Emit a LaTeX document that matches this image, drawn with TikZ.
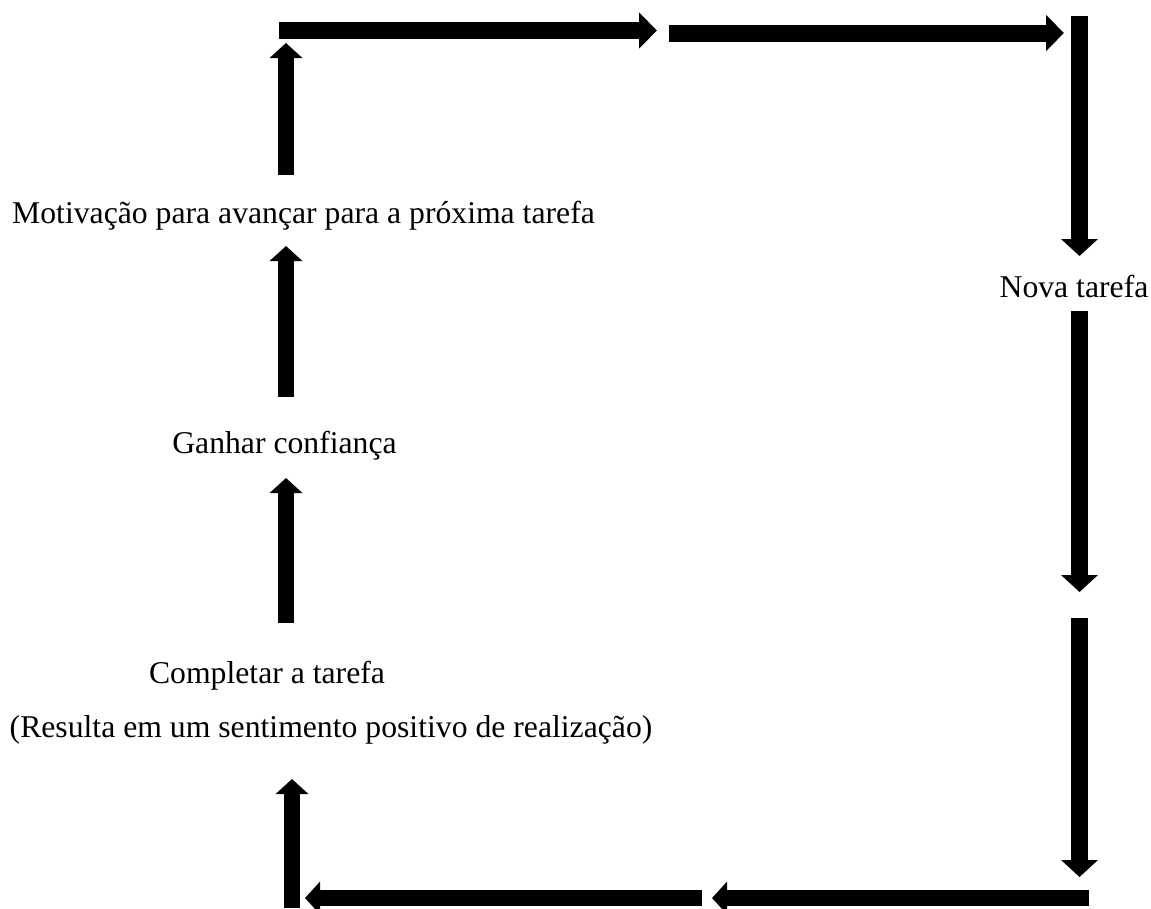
\documentclass[tikz,border=0pt]{standalone}
\usepackage{fontspec}
\setmainfont{Liberation Serif}
\usetikzlibrary{arrows.meta}
\begin{document}
\begin{tikzpicture}[x=1pt,y=-1pt,
  blockarrow/.style n args={3}{line width=#1pt,
    -{Triangle[length=#2pt,width=#3pt]}},
  leftarrow/.style={blockarrow={16}{15}{32}},
  toparrow/.style={blockarrow={17}{18}{35}},
  rightarrow/.style={blockarrow={17}{17}{36}},
  steptext/.style={inner sep=0pt, anchor=base,
    font=\fontsize{31.7}{38}\selectfont}]
\useasboundingbox (0,0) rectangle (1151,908);

% texts of the cycle
\node[steptext] (mot)    at (303.5,223) {Motivação para avançar para a próxima tarefa};
\node[steptext] (nova)   at (1074,297)  {Nova tarefa};
\node[steptext] (ganhar) at (284.5,453) {Ganhar confiança};
\node[steptext] (compl)  at (267,683)   {Completar a tarefa};
\node[steptext] (result) at (331,737)   {(Resulta em um sentimento positivo de realização)};

% end points of the block arrows
\coordinate (t1s) at (279,30.5);  \coordinate (t1e) at (657,30.5);
\coordinate (t2s) at (669,33);    \coordinate (t2e) at (1064,33);
\coordinate (r1s) at (1079.5,16); \coordinate (r1e) at (1079.5,256);
\coordinate (r2s) at (1079.5,311);\coordinate (r2e) at (1079.5,592);
\coordinate (r3s) at (1079.5,618);\coordinate (r3e) at (1079.5,877);
\coordinate (b1s) at (1089,898);  \coordinate (b1e) at (712,898);
\coordinate (b2s) at (702,898);   \coordinate (b2e) at (305,898);
\coordinate (l4s) at (292,908);   \coordinate (l4e) at (292,779);
\coordinate (l3s) at (286,623);   \coordinate (l3e) at (286,478);
\coordinate (l2s) at (286,397);   \coordinate (l2e) at (286,246);
\coordinate (l1s) at (286,175);   \coordinate (l1e) at (286,43);

% top row
\draw[toparrow] (t1s) -- (t1e);
\draw[toparrow] (t2s) -- (t2e);
% right column
\draw[rightarrow] (r1s) -- (r1e);
\draw[rightarrow] (r2s) -- (r2e);
\draw[rightarrow] (r3s) -- (r3e);
% bottom row
\draw[leftarrow] (b1s) -- (b1e);
\draw[leftarrow] (b2s) -- (b2e);
% left column
\draw[leftarrow] (l4s) -- (l4e);
\draw[leftarrow] (l3s) -- (l3e);
\draw[leftarrow] (l2s) -- (l2e);
\draw[leftarrow] (l1s) -- (l1e);
\end{tikzpicture}
\end{document}
